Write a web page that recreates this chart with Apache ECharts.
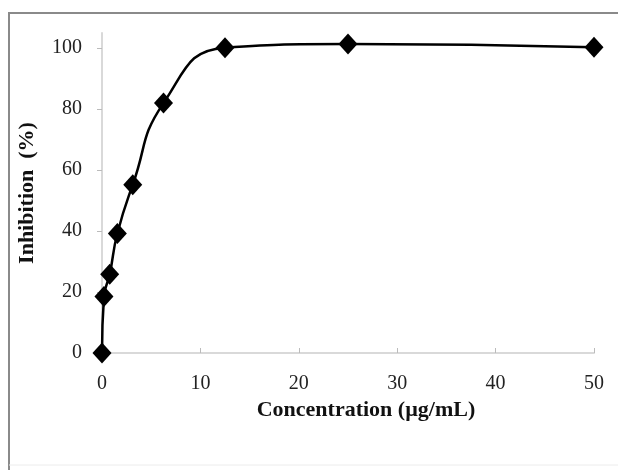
<!DOCTYPE html>
<html>
<head>
<meta charset="utf-8">
<script src="https://cdn.jsdelivr.net/npm/echarts@6/dist/echarts.min.js"></script>
<style>
  html, body { margin: 0; padding: 0; background: #fff; }
  #chart { width: 618px; height: 470px; }
</style>
</head>
<body>
<div id="chart"></div>
<script>
// concentrations (µg/mL) and inhibition (%)
const concentration = [0, 0.2, 0.78, 1.56, 3.125, 6.25, 12.5, 25, 50];
const inhibition = [0, 18.5, 25.8, 39.2, 55.2, 82, 100.2, 101.4, 100.3];
const xTicks = [0, 10, 20, 30, 40, 50];
const yTicks = [0, 20, 40, 60, 80, 100];

const font = "'Liberation Serif', 'Times New Roman', serif";
const axisGray = "#d9d9d9";

const chart = echarts.init(document.getElementById("chart"), null, { renderer: "canvas" });

chart.setOption({
  backgroundColor: "#fff",
  animation: false,
  grid: { left: 102, right: 24, top: 33, bottom: 117 },
  graphic: [
    {
      type: "polyline",
      shape: { points: [[9, 470], [9, 13], [620, 13]] },
      style: { stroke: "#8a8a8a", lineWidth: 2, fill: null },
    },
    {
      type: "line",
      shape: { x1: 9, y1: 465, x2: 620, y2: 465 },
      style: { stroke: "#ececec", lineWidth: 1 },
    },
  ],
  xAxis: {
    type: "value",
    min: 0,
    max: 50,
    interval: 10,
    name: "Concentration (µg/mL)",
    nameLocation: "middle",
    nameGap: 45,
    nameTextStyle: {
      fontFamily: font,
      fontWeight: "bold",
      fontSize: 22,
      color: "#111",
      padding: [0, 0, 0, 36],
    },
    axisLine: { show: true, onZero: false, lineStyle: { color: axisGray, width: 2 } },
    axisTick: { show: true, inside: true, length: 5, lineStyle: { color: "#bbb" }, customValues: xTicks },
    axisLabel: { fontFamily: font, fontSize: 20, color: "#222", margin: 21, customValues: xTicks },
    splitLine: { show: false },
  },
  yAxis: {
    type: "value",
    min: 0,
    max: 105,
    name: "Inhibition  (%)",
    nameLocation: "middle",
    nameGap: 64,
    nameTextStyle: {
      fontFamily: font,
      fontWeight: "bold",
      fontSize: 22,
      color: "#111",
    },
    axisLine: { show: true, lineStyle: { color: axisGray, width: 2 } },
    axisTick: { show: true, length: 5, lineStyle: { color: "#bbb" }, customValues: yTicks },
    axisLabel: { fontFamily: font, fontSize: 20, color: "#222", margin: 20, customValues: yTicks },
    splitLine: { show: false },
  },
  series: [
    {
      type: "line",
      data: concentration.map((c, i) => [c, inhibition[i]]),
      smooth: 0.5,
      clip: false,
      symbol: "diamond",
      symbolSize: [19, 21],
      lineStyle: { color: "#000", width: 2.5 },
      itemStyle: { color: "#000" },
    },
  ],
});
</script>
</body>
</html>
